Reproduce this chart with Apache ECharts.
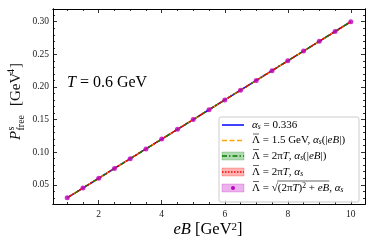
<!DOCTYPE html>
<html><head><meta charset="utf-8">
<script src="https://cdn.jsdelivr.net/npm/echarts@6/dist/echarts.min.js"></script>
<style>html,body{margin:0;padding:0;background:#fff}#c{width:374px;height:249px}</style>
</head><body><div id="c"></div>
<script>
const eB = [1,1.5,2,2.5,3,3.5,4,4.5,5,5.5,6,6.5,7,7.5,8,8.5,9,9.5,10];
const pConstAlpha = [0.030,0.045,0.060,0.075,0.090,0.105,0.120,0.135,0.150,0.165,0.180,0.195,0.210,0.225,0.240,0.255,0.270,0.285,0.300];
const pLambda15 = [0.030,0.045,0.060,0.075,0.090,0.105,0.120,0.135,0.150,0.165,0.180,0.195,0.210,0.225,0.240,0.255,0.270,0.285,0.300];
const p2piT_eB = [0.030,0.045,0.060,0.075,0.090,0.105,0.120,0.135,0.150,0.165,0.180,0.195,0.210,0.225,0.240,0.255,0.270,0.285,0.300];
const p2piT = [0.030,0.045,0.060,0.075,0.090,0.105,0.120,0.135,0.150,0.165,0.180,0.195,0.210,0.225,0.240,0.255,0.270,0.285,0.300];
const pSqrt = [0.030,0.045,0.060,0.075,0.090,0.105,0.120,0.135,0.150,0.165,0.180,0.195,0.210,0.225,0.240,0.255,0.270,0.285,0.300];
const xTicks = [2,4,6,8,10];
const xMinor = [1,1.5,2.5,3,3.5,4.5,5,5.5,6.5,7,7.5,8.5,9,9.5,10.5];
const yTicks = [0.05,0.10,0.15,0.20,0.25,0.30];
const yMinor = [0.02,0.03,0.04,0.06,0.07,0.08,0.09,0.11,0.12,0.13,0.14,0.16,0.17,0.18,0.19,0.21,0.22,0.23,0.24,0.26,0.27,0.28,0.29,0.31];

const FONT = '"Liberation Serif","DejaVu Serif",serif';
const XMIN=0.55, XMAX=10.45, YMIN=0.0205, YMAX=0.3195;
const zip = a => eB.map((x,i)=>[x,a[i]]);

function xAx(pos, vals, len, labels){
  return {type:'value', position:pos, min:XMIN, max:XMAX,
    axisLine:{show:true, onZero:false, lineStyle:{color:'#000',width:1}},
    splitLine:{show:false},
    axisTick:{show:true, inside:true, length:len, customValues:vals, lineStyle:{color:'#000',width:0.8}},
    axisLabel:{show:labels, customValues:vals, margin:5, fontFamily:FONT, fontSize:9.5, color:'#222'}};
}
function yAx(pos, vals, len, labels){
  return {type:'value', position:pos, min:YMIN, max:YMAX,
    axisLine:{show:true, onZero:false, lineStyle:{color:'#000',width:1}},
    splitLine:{show:false},
    axisTick:{show:true, inside:true, length:len, customValues:vals, lineStyle:{color:'#000',width:0.8}},
    axisLabel:{show:labels, customValues:vals, margin:4, fontFamily:FONT, fontSize:9.5, color:'#222',
      formatter:v=>v.toFixed(2)}};
}

const chart = echarts.init(document.getElementById('c'), null, {renderer:'canvas'});

const LF = 11, LS = 7.5;
const cv = document.createElement('canvas').getContext('2d');
function w(t, size, italic){ cv.font = (italic?'italic ':'') + size + 'px ' + FONT; return cv.measureText(t).width; }

const rich = {
  n:{fontFamily:FONT,fontSize:LF,color:'#222',lineHeight:12},
  i:{fontFamily:FONT,fontSize:LF,fontStyle:'italic',color:'#222',lineHeight:12},
  sub:{fontFamily:FONT,fontSize:LS,fontStyle:'italic',color:'#222',verticalAlign:'bottom',lineHeight:8,padding:[6,0,0,0]},
  sup:{fontFamily:FONT,fontSize:LS,color:'#222',verticalAlign:'top',lineHeight:8,padding:[0,0,5,0]}
};
const legendRich = [
  '{i|α}{sub|s}{n| = 0.336}',
  '{n|Λ = 1.5 GeV, }{i|α}{sub|s}{n|(|}{i|eB}{n||)}',
  '{n|Λ = 2π}{i|T}{n|, }{i|α}{sub|s}{n|(|}{i|eB}{n||)}',
  '{n|Λ = 2π}{i|T}{n|, }{i|α}{sub|s}',
  '{n|Λ = √(2π}{i|T}{n|)}{sup|2}{n| + }{i|eB}{n|, }{i|α}{sub|s}'
];
const rowsY = [125,140.5,156,172,188];
const hx0=222, hx1=244, tx=252;
const legendEls = [];
legendEls.push({type:'rect', shape:{x:219,y:117,width:140,height:85,r:2}, style:{fill:'rgba(255,255,255,0.85)',stroke:'#cccccc',lineWidth:1}, z:10});
legendEls.push({type:'line', shape:{x1:hx0,y1:rowsY[0],x2:hx1,y2:rowsY[0]}, style:{stroke:'#0000ff',lineWidth:1.5}, z:11});
legendEls.push({type:'line', shape:{x1:hx0,y1:rowsY[1],x2:hx1,y2:rowsY[1]}, style:{stroke:'#ffa500',lineWidth:1.5,lineDash:[5,2.5]}, z:11});
legendEls.push({type:'rect', shape:{x:hx0,y:rowsY[2]-4,width:hx1-hx0,height:8}, style:{fill:'rgba(0,128,0,0.3)',stroke:'rgba(0,128,0,0.45)',lineWidth:0.5}, z:11});
legendEls.push({type:'line', shape:{x1:hx0,y1:rowsY[2],x2:hx1,y2:rowsY[2]}, style:{stroke:'#008000',lineWidth:1.5,lineDash:[5,2,1.5,2]}, z:12});
legendEls.push({type:'rect', shape:{x:hx0,y:rowsY[3]-4,width:hx1-hx0,height:8}, style:{fill:'rgba(255,0,0,0.3)',stroke:'rgba(255,0,0,0.45)',lineWidth:0.5}, z:11});
legendEls.push({type:'line', shape:{x1:hx0,y1:rowsY[3],x2:hx1,y2:rowsY[3]}, style:{stroke:'#ff0000',lineWidth:1.5,lineDash:[1.5,1.5]}, z:12});
legendEls.push({type:'rect', shape:{x:hx0,y:rowsY[4]-4,width:hx1-hx0,height:8}, style:{fill:'rgba(191,0,191,0.3)',stroke:'rgba(191,0,191,0.45)',lineWidth:0.5}, z:11});
legendEls.push({type:'circle', shape:{cx:(hx0+hx1)/2,cy:rowsY[4],r:2}, style:{fill:'#bf00bf'}, z:12});
legendRich.forEach((t,k)=>{
  legendEls.push({type:'text', x:tx, y:rowsY[k], z:12, style:{text:t, rich:rich, verticalAlign:'middle', align:'left', fontFamily:FONT, fontSize:LF}});
});
const lamW = w('Λ', LF, false);
for (let k=1;k<5;k++){
  legendEls.push({type:'line', shape:{x1:tx+1,y1:rowsY[k]-6.5,x2:tx+lamW-1,y2:rowsY[k]-6.5}, style:{stroke:'#222',lineWidth:0.7}, z:12});
}
const sx0 = tx + w('Λ = √', LF, false) - 0.5;
const sx1 = tx + w('Λ = √(2π', LF, false) + w('T', LF, true) + w(')', LF, false) + w('2', LS, false) + w(' + ', LF, false) + w('eB', LF, true);
legendEls.push({type:'line', shape:{x1:sx0,y1:rowsY[4]-7,x2:sx1,y2:rowsY[4]-7}, style:{stroke:'#222',lineWidth:0.7}, z:12});

const bigI = {fontFamily:FONT,fontSize:16.5,fontStyle:'italic',color:'#111'};
const bigN = {fontFamily:FONT,fontSize:16.5,color:'#111'};

const option = {
  animation:false,
  backgroundColor:'#fff',
  grid:{left:53,right:9,top:9,bottom:45,containLabel:false},
  xAxis:[xAx('bottom',xTicks,4,true), xAx('bottom',xMinor,2,false), xAx('top',xTicks,4,false), xAx('top',xMinor,2,false)],
  yAxis:[yAx('left',yTicks,4,true), yAx('left',yMinor,2,false), yAx('right',yTicks,4,false), yAx('right',yMinor,2,false)],
  series:[
    {type:'line', name:'alpha const', data:zip(pConstAlpha), showSymbol:false, lineStyle:{color:'#0000ff',width:1.5}, z:2},
    {type:'line', name:'Lambda 1.5', data:zip(pLambda15), showSymbol:false, lineStyle:{color:'#ffa500',width:1.5,type:[5,2.5]}, z:3},
    {type:'line', name:'2piT eB', data:zip(p2piT_eB), showSymbol:false, lineStyle:{color:'#008000',width:1.5,type:[5,2,1.5,2]}, z:4},
    {type:'line', name:'2piT', data:zip(p2piT), showSymbol:false, lineStyle:{color:'#ff0000',width:1.5,type:[1.5,1.5]}, z:5},
    {type:'scatter', name:'sqrt', data:zip(pSqrt), symbol:'circle', symbolSize:5, itemStyle:{color:'#bf00bf'}, z:6}
  ],
  graphic:[
    {type:'text', x:67, y:83, style:{text:'{i|T}{n| = 0.6 GeV}', rich:{i:{fontFamily:FONT,fontSize:16,fontStyle:'italic',color:'#111'}, n:{fontFamily:FONT,fontSize:16,color:'#111'}}, verticalAlign:'middle'}},
    {type:'text', x:208, y:230, style:{text:'{i|eB}{n| [GeV}{s|2}{n|]}', rich:{i:bigI, n:bigN, s:{fontFamily:FONT,fontSize:11,color:'#111',verticalAlign:'top',padding:[0,0,5,0]}}, align:'center', verticalAlign:'middle'}},
    {type:'group', x:16, y:101, rotation:Math.PI/2, children:[
      {type:'text', x:-39, y:0, style:{text:'P', fontFamily:FONT, fontSize:15, fontStyle:'italic', fill:'#111', verticalAlign:'middle'}},
      {type:'text', x:-29.5, y:-5, style:{text:'s', fontFamily:FONT, fontSize:10, fill:'#111', verticalAlign:'middle'}},
      {type:'text', x:-29.5, y:5, style:{text:'free', fontFamily:FONT, fontSize:10, fill:'#111', verticalAlign:'middle'}},
      {type:'text', x:-5, y:0, style:{text:'[GeV', fontFamily:FONT, fontSize:15, fill:'#111', verticalAlign:'middle'}},
      {type:'text', x:27, y:-5, style:{text:'4', fontFamily:FONT, fontSize:10, fill:'#111', verticalAlign:'middle'}},
      {type:'text', x:33, y:0, style:{text:']', fontFamily:FONT, fontSize:15, fill:'#111', verticalAlign:'middle'}}
    ]},
    ...legendEls
  ]
};
chart.setOption(option);
</script></body></html>
